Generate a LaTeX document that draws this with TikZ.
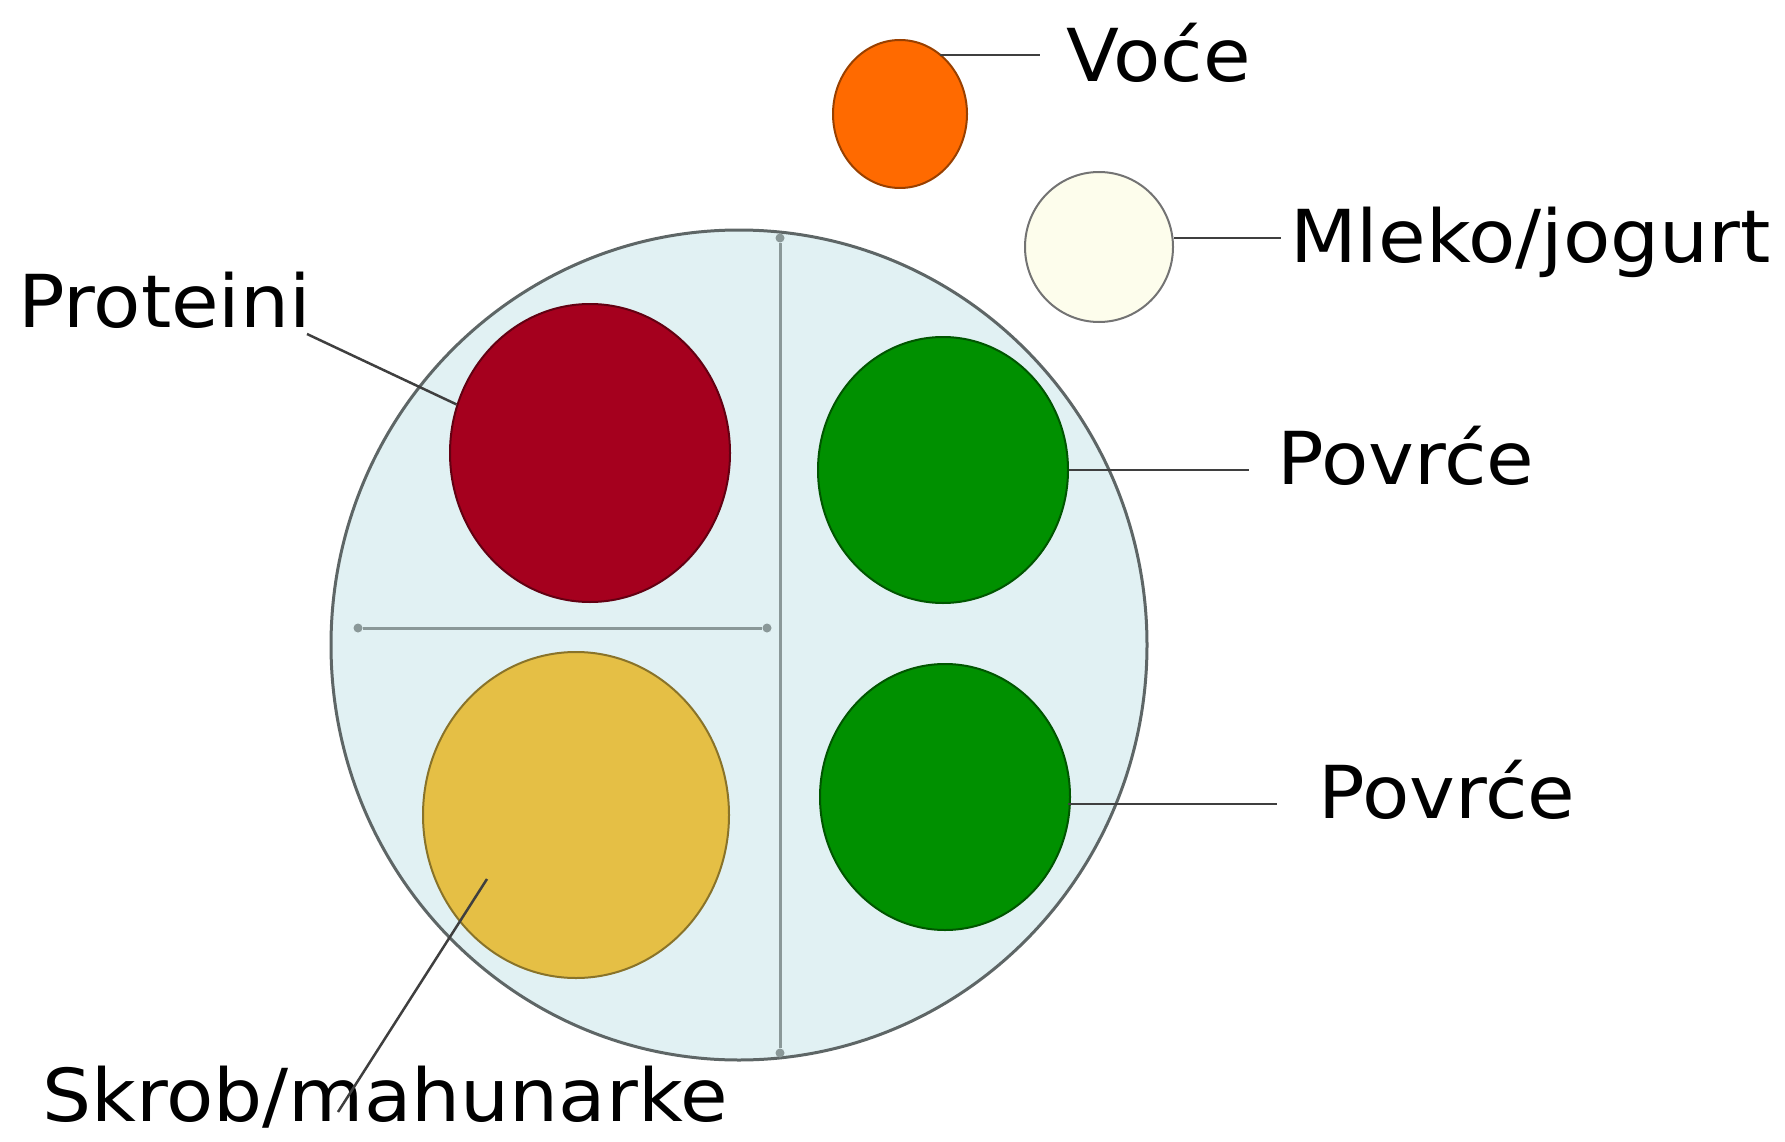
\documentclass[tikz,border=0pt]{standalone}
\usepackage{fontspec}
\setmainfont[FakeStretch=1.06]{DejaVu Sans}
\usetikzlibrary{shapes.geometric}
\definecolor{plate}{HTML}{E1F1F3}
\definecolor{plateedge}{HTML}{5E6666}
\definecolor{divider}{HTML}{8A9898}
\definecolor{protein}{HTML}{A5001E}
\definecolor{veg}{HTML}{009000}
\definecolor{starch}{HTML}{E5BF45}
\definecolor{fruit}{HTML}{FF6A00}
\definecolor{milk}{HTML}{FDFDEC}
\definecolor{leader}{HTML}{3F3F3F}
\begin{document}
\begin{tikzpicture}[x=1pt,y=-1pt,
  food/.style={ellipse,inner sep=0pt,draw=#1!60!black,line width=2pt,fill=#1},
  lbl/.style={anchor=base west,inner sep=0pt,font=\fontsize{73}{80}\selectfont,text=black},
  lead/.style={draw=leader,line width=2.5pt},
  divline/.style={draw=divider,line width=3pt},
  enddot/.style={circle,fill=divider,inner sep=0pt,minimum size=9pt}]
\useasboundingbox (0,0) rectangle (1785,1142);
% plate
\node[ellipse,draw=plateedge,line width=3pt,fill=plate,minimum width=816pt,minimum height=830pt,inner sep=0pt] (plate) at (739,645) {};
% dividers
\node[enddot] (vt) at (780,238) {};
\node[enddot] (vb) at (780,1053) {};
\node[enddot] (hl) at (358,628) {};
\node[enddot] (hr) at (767,628) {};
\draw[divline] (vt) -- (vb);
\draw[divline] (hl) -- (hr);
% foods
\node[food=protein,minimum width=280pt,minimum height=298pt] (prot) at (590,453) {};
\node[food=veg,minimum width=250pt,minimum height=266pt] (veg1) at (943,470) {};
\node[food=veg,minimum width=250pt,minimum height=266pt] (veg2) at (945,797) {};
\node[food=starch,minimum width=306pt,minimum height=326pt] (starch) at (576,815) {};
\node[food=fruit,minimum width=134pt,minimum height=148pt] (fruit) at (900,114) {};
\node[ellipse,inner sep=0pt,draw=black!55,line width=2pt,fill=milk,minimum width=148pt,minimum height=150pt] (milk) at (1099,247) {};
% labels
\node[lbl] (tfruit) at (1066,82) {Voće};
\node[lbl] (tmilk) at (1290,262) {Mleko/jogurt};
\node[lbl] (tprot) at (18,327) {Proteini};
\node[lbl] (tveg1) at (1277,484) {Povrće};
\node[lbl] (tveg2) at (1318,818) {Povrće};
\node[lbl] (tstarch) at (42,1121) {Skrob/mahunarke};
% leaders
\coordinate (cfruit) at (1040,55);
\coordinate (cmilk) at (1281,238);
\coordinate (cprot) at (307,334);
\coordinate (cveg1) at (1249,470);
\coordinate (cveg2) at (1277,804);
\coordinate (cstarch) at (338,1112);
\coordinate (sstarch) at (487,879);
\draw[lead] (fruit.center) ++(40,-59) -- (cfruit);
\draw[lead] (milk.east) ++(0,-9) -- (cmilk);
\draw[lead] (cprot) -- (prot.160);
\draw[lead] (veg1.east) -- (cveg1);
\draw[lead] (veg2.east) ++(-3,7) -- (cveg2);
\draw[lead] (sstarch) -- (cstarch);
\end{tikzpicture}
\end{document}
